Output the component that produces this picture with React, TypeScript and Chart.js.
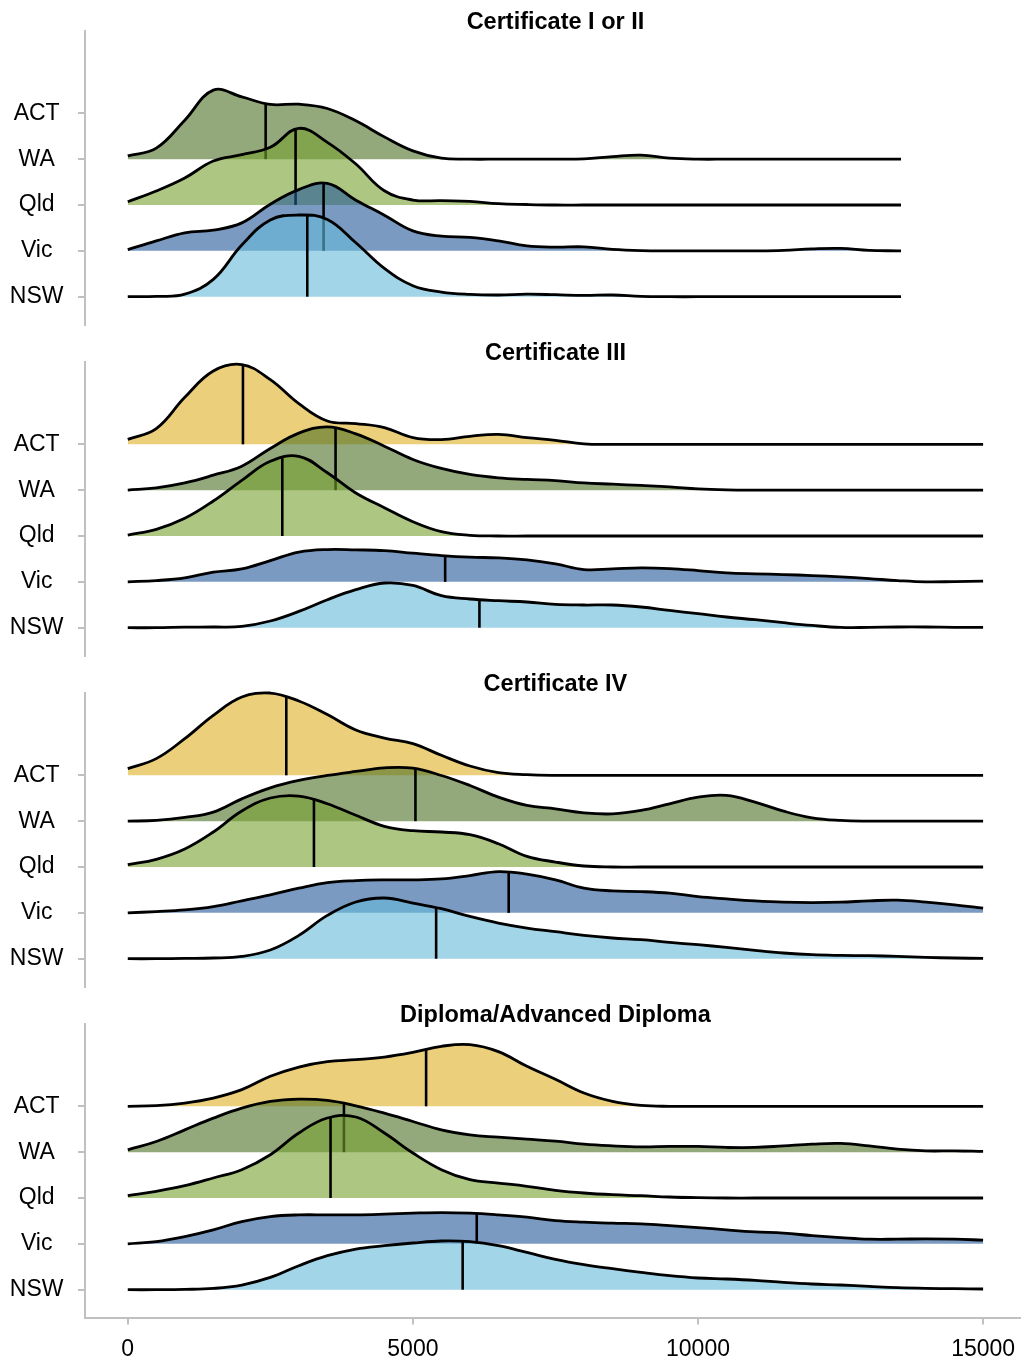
import React, { useEffect, useRef } from 'react';
import { Chart, registerables } from 'chart.js';

Chart.register(...registerables);

const FONT_FAMILY = "Arial, 'Liberation Sans', Helvetica, sans-serif";

// Categories (top to bottom) and their fill colours
const STATES = ['ACT', 'WA', 'Qld', 'Vic', 'NSW'];
const STATE_COLORS = [
  'rgba(222,175,33,0.6)',
  'rgba(77,112,35,0.6)',
  'rgba(118,162,48,0.6)',
  'rgba(33,87,153,0.6)',
  'rgba(102,185,217,0.6)',
];

const QUALIFICATIONS = [
  'Certificate I or II',
  'Certificate III',
  'Certificate IV',
  'Diploma/Advanced Diploma',
];

const X_TICKS = [0, 5000, 10000, 15000];
const GRID_STEP = 500;
const INCOME_MAX = [13560, 15000, 15000, 15000];
const DENSITY_PER_ROW = 45.85; // density units that equal one ridge row

// ---- Certificate I or II (grid 0..13500 step 500, then 13560) ----
const C12_WA = [3.3, 11, 39, 69, 62.3, 54.7, 55, 50.7, 38.3, 22.3, 8.3, 1, 0, 0, 0, 0, 0.3, 2.5, 4, 1, 0, 0, 0, 0, 0, 0, 0, 0, 0];
const C12_QLD = [3.3, 14, 27, 44, 50.3, 57.7, 76.7, 62.7, 41, 14.3, 5, 4.3, 3.7, 1.3, 0.5, 0, 0, 0, 0, 0, 0, 0, 0, 0, 0, 0, 0, 0, 0];
const C12_VIC = [1.3, 10, 18, 20.7, 28, 46.7, 61.3, 67.5, 50.7, 35.7, 20, 14.7, 13.5, 10, 5, 3.7, 4, 1.5, 0.3, 0, 0, 0, 0, 0.5, 2, 2.5, 0.5, 0, 0];
const C12_NSW = [0, 0.3, 2.5, 17.3, 51.7, 76.7, 81.7, 77.3, 54, 28.3, 11, 4.7, 2.3, 1.7, 2.5, 2, 1.3, 1.7, 0.3, 0, 0, 0, 0, 0, 0, 0, 0, 0, 0];

// ---- Certificate III (grid 0..15000 step 500) ----
const C3_ACT = [5, 15.7, 47, 73.3, 79.7, 64.7, 40.7, 23.3, 20.7, 16.7, 6.7, 4.7, 8, 10, 6.7, 4, 0.5, 0, 0, 0, 0, 0, 0, 0, 0, 0, 0, 0, 0, 0, 0];
const C3_WA = [0, 2.3, 7.3, 15, 24, 41.7, 57, 63.3, 56.3, 44, 30.7, 21.7, 15.7, 12.3, 10.7, 9.5, 7.3, 6, 4.7, 3.3, 1.3, 0.3, 0, 0, 0, 0, 0, 0, 0, 0, 0];
const C3_QLD = [1, 6.7, 17.7, 35, 55.7, 74.7, 79.7, 63.3, 43, 28.3, 14.3, 4.3, 0.7, 0, 0, 0, 0, 0, 0, 0, 0, 0, 0, 0, 0, 0, 0, 0, 0, 0, 0];
const C3_VIC = [0, 1.3, 4, 9.7, 13, 21.3, 29.7, 32.3, 32, 31.3, 28.7, 26.3, 24.7, 24, 22, 18, 12.3, 13, 14, 13.3, 11.3, 9, 8, 7.3, 6.3, 5, 3.3, 1.3, 0, 0.3, 0.7];
const C3_NSW = [0, 0, 0.5, 0.7, 1.3, 6.7, 16.3, 28, 38, 44.7, 42.3, 32, 28.7, 27, 25.7, 23.3, 22.7, 22.7, 20.7, 17.3, 14, 10.7, 8, 5, 2.3, 0.3, 0.3, 0.7, 0.7, 0.3, 0.3];

// ---- Certificate IV ----
const C4_ACT = [6.7, 16.7, 36.7, 60, 78.3, 82.3, 74.3, 60.7, 45.3, 37.3, 31.7, 20, 9.3, 2.7, 0.7, 0, 0, 0, 0, 0, 0, 0, 0, 0, 0, 0, 0, 0, 0, 0, 0];
const C4_WA = [0, 0.7, 3.7, 9, 22.3, 33.3, 40.7, 45.7, 49.7, 53.3, 53, 45.7, 35.7, 24, 15.7, 12.3, 8.3, 7.3, 10.7, 17.3, 24, 25.7, 19, 10, 3.3, 0.7, 0, 0, 0, 0, 0];
const C4_QLD = [2.3, 7.7, 18, 35, 56, 69, 71, 63.3, 51.7, 40.7, 36.3, 35, 32.3, 23.3, 10.7, 5, 1, 0, 0, 0, 0, 0, 0, 0, 0, 0, 0, 0, 0, 0, 0];
const C4_VIC = [0, 1.3, 3, 6.3, 12, 18, 24.7, 30.3, 32.3, 33, 33, 34, 37.3, 41.3, 38.7, 33, 24.7, 22, 21.3, 19.7, 16.3, 14, 12, 10.7, 10.3, 10.7, 12, 12.7, 10.7, 8, 4.7];
const C4_NSW = [0, 0, 0.3, 0.7, 2.3, 8.7, 23.3, 43.3, 56.7, 60.7, 55.7, 50, 42.3, 35.7, 30.7, 27, 23.3, 20.7, 19, 16.3, 14, 11.3, 8.3, 5.7, 4, 3.3, 3, 2.3, 1.3, 0.7, 0.3];

// ---- Diploma / Advanced Diploma ----
const DIP_ACT = [0, 0.7, 3.3, 8.3, 16.7, 30, 39.3, 44.7, 46.7, 49.3, 54, 60, 61.7, 54.7, 40, 27, 13.3, 5, 1, 0, 0, 0, 0, 0, 0, 0, 0, 0, 0, 0, 0];
const DIP_WA = [2.3, 10.7, 22.3, 34, 44, 50.7, 53, 51.7, 46.3, 39, 30.7, 22.3, 17.3, 15, 13, 11, 8, 6.3, 5.3, 5.7, 5.7, 4.7, 4.7, 6.3, 8, 8.7, 6.3, 3, 1.3, 1.3, 0.7];
const DIP_QLD = [2.3, 6.7, 12.3, 20, 28.3, 43.3, 65, 80, 81, 65, 45, 28.3, 18.3, 15, 11.7, 7.7, 5, 3.3, 2.3, 1, 0.3, 0, 0, 0, 0, 0, 0, 0, 0, 0, 0];
const DIP_VIC = [0, 2.3, 7.3, 14, 22.3, 27.3, 29, 29, 29, 29.7, 30.7, 31.3, 30.7, 29, 26.7, 23.3, 21.7, 20.7, 20, 18.3, 16.3, 14, 12, 10.7, 8.3, 6.3, 4.7, 4.7, 5, 4.7, 3.7];
const DIP_NSW = [0, 0, 0.3, 1.3, 4.7, 12.3, 24, 34, 40.7, 44, 46.7, 48.7, 48, 44, 37.3, 30.3, 25, 21, 17.3, 14, 11.7, 10.7, 9.3, 7.3, 5.7, 4.7, 3.3, 2, 1.3, 1, 0.7];

const DENSITIES: (number[] | null)[][] = [
  [null, C12_WA, C12_QLD, C12_VIC, C12_NSW],
  [C3_ACT, C3_WA, C3_QLD, C3_VIC, C3_NSW],
  [C4_ACT, C4_WA, C4_QLD, C4_VIC, C4_NSW],
  [DIP_ACT, DIP_WA, DIP_QLD, DIP_VIC, DIP_NSW],
];

// Medians (same order as STATES)
const MEDIANS_C12 = [null, 2418, 2943, 3434, 3148];
const MEDIANS_C3 = [2020, 3644, 2710, 5566, 6167];
const MEDIANS_C4 = [2780, 5045, 3265, 6680, 5408];
const MEDIANS_DIP = [5232, 3791, 3556, 6120, 5873];
const MEDIANS = [MEDIANS_C12, MEDIANS_C3, MEDIANS_C4, MEDIANS_DIP];

function incomeGrid(max: number) {
  const g: number[] = [];
  for (let v = 0; v <= max; v += GRID_STEP) g.push(v);
  if (g[g.length - 1] !== max) g.push(max);
  return g;
}

function cubicAt(a: number, b: number, c: number, d: number, t: number) {
  const u = 1 - t;
  return u * u * u * a + 3 * u * u * t * b + 3 * u * t * t * c + t * t * t * d;
}

// Height (in y-scale value) of the rendered ridge curve at a given x value,
// read from the bezier control points Chart.js computed for that dataset.
function ridgeValueAt(chart: any, datasetIndex: number, xValue: number) {
  const meta = chart.getDatasetMeta(datasetIndex);
  if (meta.dataset && meta.dataset.updateControlPoints) {
    meta.dataset.updateControlPoints(chart.chartArea, 'x');
  }
  const pts = meta.data;
  const xs = chart.scales.x;
  const ys = chart.scales.y;
  const px = xs.getPixelForValue(xValue);
  for (let i = 0; i < pts.length - 1; i++) {
    const a = pts[i];
    const b = pts[i + 1];
    if (px >= a.x && px <= b.x) {
      const p1x = a.cp2x ?? a.x, p1y = a.cp2y ?? a.y;
      const p2x = b.cp1x ?? b.x, p2y = b.cp1y ?? b.y;
      let lo = 0, hi = 1;
      for (let k = 0; k < 60; k++) {
        const mid = (lo + hi) / 2;
        if (cubicAt(a.x, p1x, p2x, b.x, mid) < px) lo = mid; else hi = mid;
      }
      const t = (lo + hi) / 2;
      return ys.getValueForPixel(cubicAt(a.y, p1y, p2y, b.y, t));
    }
  }
  return null;
}

const panelTitlePlugin = {
  id: 'panelTitle',
  afterDraw(chart: any, _args: any, opts: any) {
    const { ctx } = chart;
    const xs = chart.scales.x;
    ctx.save();
    ctx.font = `bold 23.5px ${FONT_FAMILY}`;
    ctx.fillStyle = '#000';
    ctx.textAlign = 'center';
    ctx.textBaseline = 'alphabetic';
    ctx.fillText(opts.text, xs.getPixelForValue(7500), 28.5);
    ctx.restore();
  },
};

const AXIS_GRAY = '#c0c0c0';

function Panel({ index, height, showXAxis }: { index: number; height: number; showXAxis: boolean }) {
  const ref = useRef<HTMLCanvasElement>(null);

  useEffect(() => {
    const canvas = ref.current;
    if (!canvas) return;
    const grid = incomeGrid(INCOME_MAX[index]);
    const datasets: any[] = [];
    const medianLinks: { medianIdx: number; ridgeIdx: number; median: number }[] = [];
    STATES.forEach((state, k) => {
      const dens = DENSITIES[index][k];
      if (!dens) return;
      const base = STATES.length - 1 - k;
      const ridgeIdx = datasets.length;
      datasets.push({
        label: state,
        data: grid.map((x, i) => ({ x, y: base + dens[i] / DENSITY_PER_ROW })),
        borderColor: '#000',
        borderWidth: 2.8,
        borderJoinStyle: 'round',
        backgroundColor: STATE_COLORS[k],
        fill: { value: base },
        pointRadius: 0,
        tension: 0.4,
        order: 100 - 10 * k,
        clip: false,
      });
      const med = MEDIANS[index][k];
      if (med != null) {
        medianLinks.push({ medianIdx: datasets.length, ridgeIdx, median: med });
        datasets.push({
          label: state + ' median',
          data: [{ x: med, y: base }, { x: med, y: base }],
          borderColor: '#000',
          borderWidth: 2.6,
          pointRadius: 0,
          fill: false,
          tension: 0,
          order: 95 - 10 * k,
          clip: false,
        });
      }
    });

    const chart = new Chart(canvas, {
      type: 'line',
      data: { datasets },
      plugins: [panelTitlePlugin as any],
      options: {
        responsive: false,
        animation: false,
        events: [],
        devicePixelRatio: 1,
        layout: { padding: { top: 30.7, bottom: showXAxis ? 0 : 6.5, left: 0, right: 0 } },
        plugins: {
          legend: { display: false },
          tooltip: { enabled: false },
          title: { display: false },
          panelTitle: { text: QUALIFICATIONS[index] },
        } as any,
        scales: {
          x: {
            type: 'linear',
            min: -750,
            max: 15640,
            display: showXAxis,
            afterBuildTicks: (s: any) => { s.ticks = X_TICKS.map((v) => ({ value: v })); },
            afterFit: (s: any) => {
              if (showXAxis) s.height = 43.5;
              s.paddingLeft = 0; s.paddingRight = 0; s.paddingTop = 0; s.paddingBottom = 0;
            },
            ticks: {
              autoSkip: false,
              maxRotation: 0,
              padding: 11,
              color: '#000',
              font: { family: FONT_FAMILY, size: 23 },
              callback: (v: any) => String(v),
            },
            grid: { drawOnChartArea: false, drawTicks: true, tickLength: 7, color: AXIS_GRAY, lineWidth: 2 },
            border: { display: true, color: AXIS_GRAY, width: 2 },
          },
          y: {
            type: 'linear',
            min: -0.606,
            max: 5.802,
            afterBuildTicks: (s: any) => { s.ticks = STATES.map((_, i) => ({ value: i })); },
            afterFit: (s: any) => {
              s.width = 85;
              s.paddingLeft = 0; s.paddingRight = 0; s.paddingTop = 0; s.paddingBottom = 0;
            },
            ticks: {
              autoSkip: false,
              padding: 14.5,
              crossAlign: 'center',
              color: '#000',
              font: { family: FONT_FAMILY, size: 23 },
              callback: (v: any) => STATES[STATES.length - 1 - Number(v)],
            },
            grid: { drawOnChartArea: false, drawTicks: true, tickLength: 7, color: AXIS_GRAY, lineWidth: 2 },
            border: { display: true, color: AXIS_GRAY, width: 2 },
          },
        },
      } as any,
    });

    // Median lines reach up to the drawn ridge curve
    medianLinks.forEach(({ medianIdx, ridgeIdx, median }) => {
      const top = ridgeValueAt(chart, ridgeIdx, median);
      if (top != null) (chart.data.datasets[medianIdx].data[1] as any).y = top;
    });
    chart.update('none');

    return () => chart.destroy();
  }, [index, showXAxis]);

  return (
    <canvas
      ref={ref}
      width={1021}
      height={height}
      style={{ display: 'block', width: 1021, height }}
    />
  );
}

export default function App() {
  useEffect(() => {
    document.body.style.margin = '0';
    document.body.style.background = '#fff';
  }, []);
  return (
    <div style={{ width: 1021, background: '#fff' }}>
      {QUALIFICATIONS.map((q, i) => (
        <Panel key={q} index={i} height={i === 3 ? 368 : 331} showXAxis={i === 3} />
      ))}
    </div>
  );
}
